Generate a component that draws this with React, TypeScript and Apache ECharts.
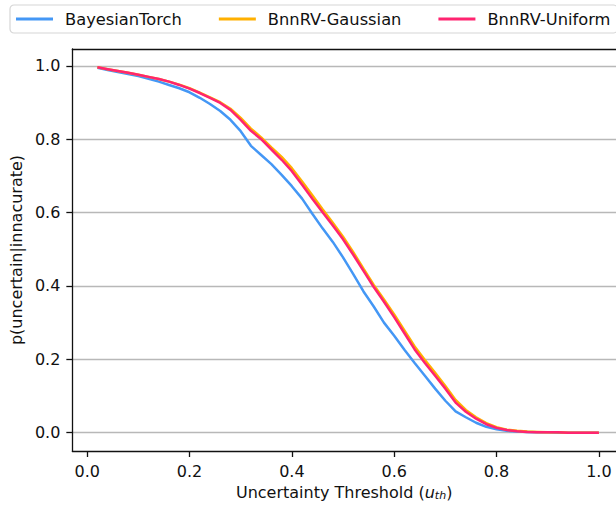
import React, { useEffect, useRef } from "react";
import * as echarts from "echarts";

const thresholds = [
  0.02, 0.04, 0.06, 0.08, 0.1, 0.12, 0.14, 0.16, 0.18, 0.2,
  0.22, 0.24, 0.26, 0.28, 0.3, 0.32, 0.34, 0.36, 0.38, 0.4,
  0.42, 0.44, 0.46, 0.48, 0.5, 0.52, 0.54, 0.56, 0.58, 0.6,
  0.62, 0.64, 0.66, 0.68, 0.7, 0.72, 0.74, 0.76, 0.78, 0.8,
  0.82, 0.84, 0.86, 0.88, 0.9, 0.92, 0.94, 0.96, 0.98, 1.0,
];

const bayesianTorch = [
  0.995, 0.989, 0.983, 0.978, 0.972, 0.965, 0.957, 0.948, 0.939, 0.928,
  0.913, 0.896, 0.877, 0.853, 0.822, 0.782, 0.757, 0.732, 0.703, 0.672,
  0.638, 0.597, 0.557, 0.52, 0.478, 0.432, 0.385, 0.344, 0.3, 0.264,
  0.226, 0.19, 0.155, 0.12, 0.087, 0.058, 0.042, 0.027, 0.016, 0.009,
  0.005, 0.003, 0.002, 0.001, 0.001, 0.0, 0.0, 0.0, 0.0, 0.0,
];

const bnnrvGaussian = [
  0.996, 0.991, 0.986, 0.981, 0.976, 0.97, 0.964, 0.957, 0.949, 0.939,
  0.927, 0.914, 0.901, 0.883, 0.858, 0.829, 0.805, 0.778, 0.752, 0.721,
  0.685, 0.647, 0.609, 0.572, 0.534, 0.492, 0.447, 0.403, 0.363, 0.322,
  0.279, 0.235, 0.198, 0.163, 0.127, 0.089, 0.062, 0.042, 0.026, 0.015,
  0.008, 0.005, 0.003, 0.002, 0.001, 0.001, 0.0, 0.0, 0.0, 0.0,
];

const bnnrvUniform = [
  0.996, 0.991, 0.986, 0.981, 0.976, 0.97, 0.964, 0.957, 0.948, 0.938,
  0.926, 0.913, 0.899, 0.88, 0.853, 0.823, 0.8, 0.772, 0.744, 0.713,
  0.676, 0.638, 0.601, 0.565, 0.527, 0.485, 0.441, 0.397, 0.357, 0.315,
  0.271, 0.227, 0.19, 0.155, 0.12, 0.082, 0.057, 0.038, 0.023, 0.013,
  0.007, 0.004, 0.002, 0.001, 0.001, 0.001, 0.0, 0.0, 0.0, 0.0,
];

const seriesNames = ["BayesianTorch", "BnnRV-Gaussian", "BnnRV-Uniform"];
const seriesColors = ["#4497f5", "#ffb000", "#ff2470"];
const xTicks = [0, 0.2, 0.4, 0.6, 0.8, 1.0];
const yTicks = [0, 0.2, 0.4, 0.6, 0.8, 1.0];

const FONT = "DejaVu Sans";
const X_MIN = -0.029;
const X_MAX = 1.0335;

export default function App() {
  const ref = useRef<HTMLDivElement>(null);

  useEffect(() => {
    if (!ref.current) return;
    const chart = echarts.init(ref.current, null, { renderer: "svg" });
    const values = [bayesianTorch, bnnrvGaussian, bnnrvUniform];
    chart.setOption({
      animation: false,
      backgroundColor: "#ffffff",
      textStyle: { fontFamily: FONT },
      legend: {
        left: 10,
        top: 5,
        width: 700,
        padding: [6, 7, 6, 6],
        itemGap: 37,
        itemWidth: 37,
        itemHeight: 3,
        icon: "rect",
        borderColor: "#d6d6d6",
        borderWidth: 1.2,
        borderRadius: 4,
        textStyle: {
          fontFamily: FONT,
          fontSize: 16.3,
          color: "#111",
          padding: [0, 0, 0, 7],
        },
        data: seriesNames,
      },
      grid: {
        left: 72,
        right: 0,
        top: 49,
        bottom: 53,
        show: false,
      },
      xAxis: [
        {
          type: "value",
          min: X_MIN,
          max: X_MAX,
          position: "bottom",
          axisLine: { show: true, onZero: false, lineStyle: { color: "#111", width: 1.3 } },
          axisTick: {
            show: true,
            length: 6,
            customValues: xTicks,
            lineStyle: { color: "#111", width: 1.3 },
          },
          axisLabel: {
            customValues: xTicks,
            margin: 12,
            fontSize: 16,
            fontFamily: FONT,
            color: "#111",
            formatter: (v: number) => v.toFixed(1),
          },
          splitLine: { show: false },
          name: "{a|Uncertainty Threshold (}{u|u}{s|th}{a|)}",
          nameLocation: "middle",
          nameGap: 33,
          nameTextStyle: {
            fontFamily: FONT,
            fontSize: 16,
            color: "#111",
            rich: {
              a: { fontFamily: FONT, fontSize: 16, color: "#111" },
              u: { fontFamily: FONT, fontSize: 16, color: "#111", fontStyle: "italic" },
              s: {
                fontFamily: FONT,
                fontSize: 11,
                color: "#111",
                fontStyle: "italic",
                verticalAlign: "bottom",
                padding: [6, 0, 0, 0],
              },
            },
          },
        },
        {
          type: "value",
          min: X_MIN,
          max: X_MAX,
          position: "top",
          axisLine: { show: true, onZero: false, lineStyle: { color: "#111", width: 1.3 } },
          axisTick: { show: false },
          axisLabel: { show: false },
          splitLine: { show: false },
        },
      ],
      yAxis: {
        type: "value",
        min: -0.05,
        max: 1.046,
        axisLine: { show: true, onZero: false, lineStyle: { color: "#111", width: 1.3 } },
        axisTick: {
          show: true,
          length: 6,
          customValues: yTicks,
          lineStyle: { color: "#111", width: 1.3 },
        },
        axisLabel: {
          customValues: yTicks,
          margin: 12,
          fontSize: 16,
          fontFamily: FONT,
          color: "#111",
          formatter: (v: number) => v.toFixed(1),
        },
        splitLine: {
          show: true,
          lineStyle: { color: "#b8b8b8", width: 1.3 },
        },
        name: "p(uncertain|innacurate)",
        nameLocation: "middle",
        nameRotate: 90,
        nameGap: 42,
        nameTextStyle: { fontFamily: FONT, fontSize: 16, color: "#111" },
      },
      series: seriesNames.map((name, i) => ({
        name,
        type: "line",
        xAxisIndex: 0,
        data: thresholds.map((t, j) => [t, values[i][j]]),
        showSymbol: false,
        symbol: "none",
        color: seriesColors[i],
        lineStyle: { width: 2.5, color: seriesColors[i] },
        z: 3 + i,
      })),
    });
    return () => chart.dispose();
  }, []);

  return <div ref={ref} style={{ width: 616, height: 506, position: "absolute", left: 0, top: 0 }} />;
}
